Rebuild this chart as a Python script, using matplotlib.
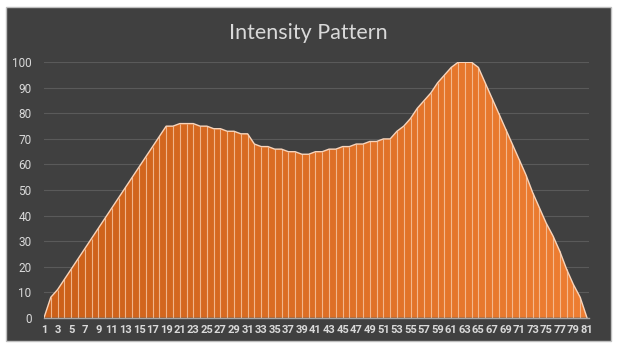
import numpy as np
import matplotlib.pyplot as plt
from matplotlib.colors import LinearSegmentedColormap
from matplotlib.patches import Rectangle

# Data
positions = list(range(1, 82))
intensity = [0, 8, 11, 15, 19, 23, 27, 31, 35, 39,
             43, 47, 51, 55, 59, 63, 67, 71, 75, 75,
             76, 76, 76, 75, 75, 74, 74, 73, 73, 72,
             72, 68, 67, 67, 66, 66, 65, 65, 64, 64,
             65, 65, 66, 66, 67, 67, 68, 68, 69, 69,
             70, 70, 73, 75, 78, 82, 85, 88, 92, 95,
             98, 100, 100, 100, 98, 92, 86, 80, 74, 68,
             62, 56, 49, 43, 37, 32, 26, 19, 13, 8, 0]
x_labels = [str(p) for p in positions[::2]]
y_ticks = list(range(0, 101, 10))

bg = '#404040'
txt = '#D9D9D9'

fig = plt.figure(figsize=(6.17, 3.54), dpi=100)
fig.patch.set_facecolor('white')
fig.patches.append(Rectangle((6 / 617, 1 - 341 / 354), 605 / 617, 334 / 354,
                             transform=fig.transFigure, facecolor=bg,
                             edgecolor='#BFBFBF', linewidth=1, zorder=-1))

ax = fig.add_axes([44 / 617, 1 - 317.7 / 354, 545 / 617, 255.4 / 354])
ax.set_facecolor(bg)
ax.patch.set_alpha(0)

x = np.array(positions)
y = np.array(intensity)

# gradient fill clipped to the area
cmap = LinearSegmentedColormap.from_list('orng', ['#CC6019', '#EE7E32'])
grad = np.linspace(0, 1, 256).reshape(1, -1)
im = ax.imshow(grad, extent=[1, 81, 0, 100], aspect='auto', cmap=cmap,
               origin='lower', zorder=2)
poly = ax.fill_between(x, 0, y, facecolor='none', edgecolor='none')
clip = poly.get_paths()[0]
im.set_clip_path(clip, transform=ax.transData)

ax.vlines(x[1:-1], 0, y[1:-1], colors='#F6C4A0', linewidth=0.8, alpha=0.85, zorder=3)
ax.plot(x, y, color='#F8D5BC', linewidth=1.0, zorder=4)

ax.set_xlim(1, 81.3)
ax.set_ylim(0, 100)
ax.set_yticks(y_ticks)
ax.set_yticklabels([str(v) for v in y_ticks])
ax.set_xticks(positions[::2])
ax.set_xticklabels(x_labels)
ax.grid(axis='y', color='#5A5A5A', linewidth=0.8, zorder=1)
ax.set_axisbelow(True)

for s in ['top', 'right', 'left']:
    ax.spines[s].set_visible(False)
ax.spines['bottom'].set_color('#A6A6A6')
ax.spines['bottom'].set_linewidth(1)
ax.spines['bottom'].set_zorder(5)

ax.tick_params(axis='both', length=0, colors=txt)
ax.tick_params(axis='y', pad=9)
ax.tick_params(axis='x', pad=5)
for lab in ax.get_yticklabels():
    lab.set_family(['Liberation Sans Narrow', 'Roboto'])
    lab.set_fontsize(8.5)
for lab in ax.get_xticklabels():
    lab.set_family(['Liberation Sans Narrow', 'Roboto'])
    lab.set_fontsize(8)
    lab.set_fontweight('bold')

fig.text(0.5, 1 - 33 / 354, 'Intensity Pattern', ha='center', va='center',
         color=txt, fontsize=15.5, family=['Lato', 'DejaVu Sans'])

fig.savefig('out.png', dpi=100, facecolor=fig.get_facecolor())
